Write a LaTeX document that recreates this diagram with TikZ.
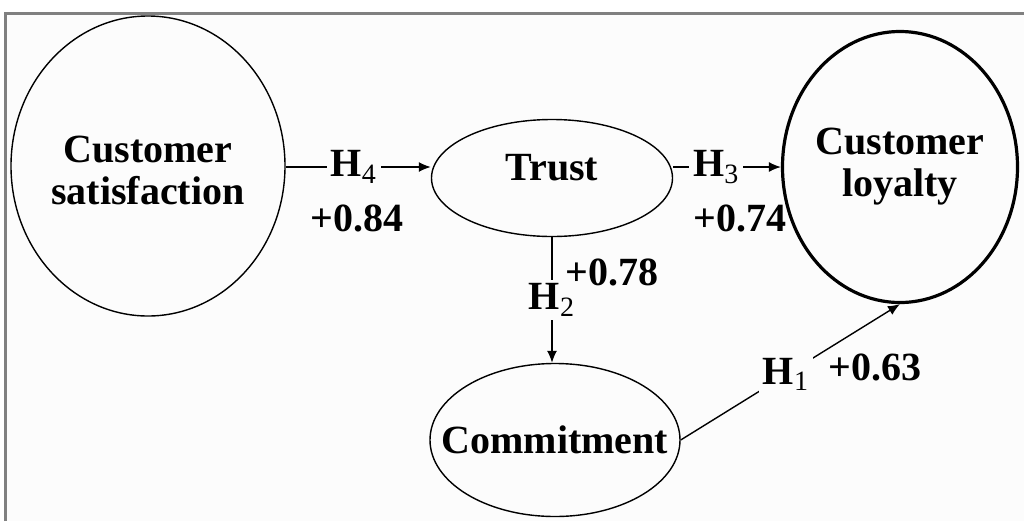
\documentclass[tikz,border=0pt]{standalone}
\usepackage{fontspec}
\setmainfont{Liberation Serif}
\usetikzlibrary{shapes.geometric,arrows.meta}
\begin{document}
\begin{tikzpicture}[x=0.5pt,y=-0.5pt,
  every node/.style={font=\bfseries\fontsize{20}{21}\selectfont},
  oval/.style={ellipse,draw=black,line width=0.7pt,inner sep=0pt,fill=white!98!gray},
  txt/.style={align=center,inner sep=0pt},
  conn/.style={draw=black,line width=0.7pt,-{Latex[length=6pt,width=5pt]}},
  hlab/.style={fill=white!98!gray,inner sep=2pt},
  val/.style={inner sep=0pt}]
\useasboundingbox (0,0) rectangle (1024,521);
\fill[white!98!gray] (4,13) rectangle (1024,521);
\draw[gray,line width=1.5pt] (5,521) -- (5,13) -- (1024,13);
\node[oval,minimum width=137pt,minimum height=150pt] (sat) at (148,166) {};
\node[txt] (satt) at (148,170) {Customer\\satisfaction};
\node[oval,minimum width=120.5pt,minimum height=58.5pt] (trust) at (552,178) {};
\node[txt] (trustt) at (552,168) {Trust};
\node[oval,line width=1.6pt,minimum width=117.5pt,minimum height=135.5pt] (loy) at (900,167) {};
\node[txt] (loyt) at (loy) {Customer\\loyalty};
\node[oval,minimum width=125pt,minimum height=76.5pt] (com) at (555,440) {};
\node[txt] (comt) at (com) {Commitment};
\draw[conn] (sat.east |- 0,167) -- node[hlab,pos=0.47] {H\textsubscript{\mdseries 4}} (trust.west |- 0,167);
\draw[conn] (trust.east |- 0,167) -- node[hlab,pos=0.4] {H\textsubscript{\mdseries 3}} (loy.west |- 0,167);
\draw[conn] (trust.south) -- node[hlab,pos=0.5] {H\textsubscript{\mdseries 2}} (trust.south |- com.north);
\draw[conn] (com.east) -- node[hlab,pos=0.48] {H\textsubscript{\mdseries 1}} (loy.south);
\node[val] (v84) at (357,218) {+0.84};
\node[val] (v74) at (740,218) {+0.74};
\node[val] (v78) at (612,272) {+0.78};
\node[val] (v63) at (875,367) {+0.63};
\end{tikzpicture}
\end{document}
